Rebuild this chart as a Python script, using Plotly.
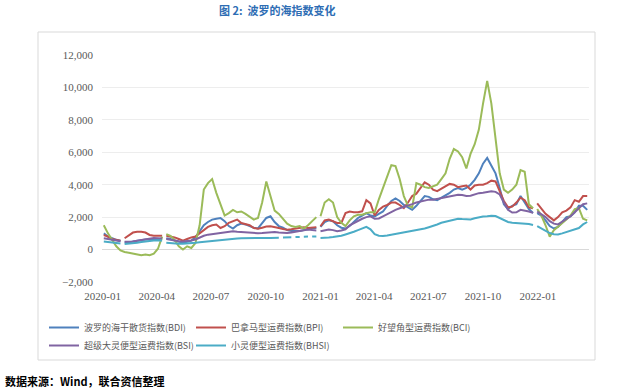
import pandas as pd
import plotly.graph_objects as go

# ---- data (weekly readings, Fridays from 2020-01-03) ----
start_date = "2020-01-03"
n_weeks = 117

bdi = [
    1000, 800, 700, 600, 550, 450, 430, 500, 550, 600, 620, 630, 600,
    620, 680, 700, 650, 550, 480, 420, 480, 550, 750, 1100, 1500, 1700,
    1850, 1900, 1950, 1750, 1450, 1300, 1500, 1600, 1550, 1450, 1350, 1300, 1650,
    1950, 2050, 1700, 1450, 1350, 1200, 1150, 1150, 1150, 1200, 1250, 1300, 1350,
    1400, 1700, 1800, 1750, 1500, 1350, 1300, 1450, 1700, 1950, 2100, 2250, 2100,
    2050, 2200, 2350, 2700, 3000, 3150, 3000, 2750, 2600, 2450, 2700, 3000, 3300,
    3250, 3100, 3050, 3200, 3300, 3500, 3700, 3800, 3700, 3800, 4000, 4300, 4700,
    5300, 5650, 5200, 4700, 3800, 2800, 2500, 2700, 2800, 3300, 2900, 2500, 2250,
    2250, 2100, 1800, 1450, 1300, 1400, 1700, 2000, 2050, 2300, 2700, 2700, 2450,
]
bpi = [
    900, 800, 650, 600, 550, 700, 900, 1050, 1100, 1100, 1050, 900, 850,
    850, 850, 850, 800, 750, 650, 550, 650, 750, 800, 1000, 1200, 1400,
    1500, 1540, 1330, 1440, 1650, 1750, 1850, 1640, 1580, 1500, 1330, 1280, 1350,
    1420, 1440, 1400, 1330, 1270, 1230, 1250, 1280, 1350, 1370, 1330, 1370, 1380,
    1440, 1800, 1850, 1750, 1640, 1640, 2250, 2350, 2300, 2300, 2360, 3050, 2850,
    2100, 2450, 2650, 2750, 2900, 2900, 2750, 2560, 2900, 3300, 3450, 3800, 4150,
    4000, 3700, 3600, 3750, 3950, 4050, 4000, 3850, 3900, 3950, 3700, 3950, 4000,
    4000, 4100, 4250, 4200, 3600, 3000, 2600, 2650, 2900, 3200, 3050, 2600, 2550,
    2850, 2550, 2200, 2000, 1800, 2000, 2300, 2400, 2600, 3050, 2950, 3300, 3300,
]
bci = [
    1500, 1000, 600, 200, -50, -150, -200, -250, -300, -350, -300, -350, -250,
    50, 800, 950, 850, 600, 200, 0, 200, 100, 400, 1500, 3700, 4100,
    4350, 3500, 2800, 2100, 2250, 2450, 2300, 2350, 2200, 2000, 1850, 1950, 2900,
    4200, 3300, 2400, 2200, 1900, 1600, 1450, 1400, 1450, 1300, 1500, 1750, 2000,
    2050, 2900, 3100, 2900, 2000, 1650, 1450, 1800, 2050, 2150, 2150, 2250, 2300,
    2300, 3100, 3800, 4500, 5200, 5150, 4350, 3300, 2700, 2600, 4100, 4000, 3850,
    3800, 3900, 4000, 4350, 4700, 5600, 6200, 6050, 5700, 5000, 5900, 6500, 7400,
    9000, 10400, 9000, 6800, 4700, 3700, 3500, 3700, 4000, 4900, 4800, 2800, 2550,
    2500, 2100, 1500, 800, 1200, 1400, 1600, 1850, 2100, 2500, 2550, 1900, 1800,
]
bsi = [
    700, 650, 600, 560, 520, 480, 470, 500, 550, 600, 650, 700, 720,
    700, 680, 650, 600, 550, 520, 500, 520, 560, 620, 750, 850, 920,
    960, 1000, 1020, 1060, 1110, 1130, 1100, 1080, 1050, 1030, 1020, 1010, 1020,
    1040, 1080, 1080, 1050, 1020, 1020, 1050, 1100, 1130, 1200, 1230, 1200, 1180,
    1130, 1200, 1230, 1200, 1130, 1180, 1250, 1500, 1650, 1800, 1900, 2000, 2050,
    1900, 1920, 2050, 2200, 2350, 2450, 2550, 2620, 2700, 2800, 2900, 2970, 3030,
    3080, 3080, 3130, 3180, 3250, 3320, 3350, 3380, 3360, 3300, 3320, 3420, 3480,
    3500, 3570, 3600, 3560, 3400, 2900, 2450, 2280, 2300, 2450, 2420, 2350, 2260,
    2350, 2200, 2000, 1750, 1600, 1550, 1700, 1850, 2050, 2300, 2550, 2800, 2850,
]
bhsi = [
    500, 480, 440, 400, 380, 350, 360, 380, 420, 460, 500, 540, 560,
    570, 560, 420, 390, 370, 360, 360, 370, 380, 420, 450, 480, 510,
    530, 550, 570, 600, 630, 660, 680, 700, 710, 720, 720, 720, 720,
    720, 720, 720, 730, 740, 750, 760, 770, 780, 790, 800, 800, 810,
    720, 720, 740, 770, 800, 850, 930, 1000, 1100, 1200, 1300, 1400, 1250,
    950, 850, 830, 870, 920, 960, 1000, 1040, 1080, 1130, 1180, 1230, 1300,
    1380, 1450, 1550, 1650, 1720, 1760, 1830, 1900, 1880, 1850, 1860, 1930, 1990,
    2040, 2060, 2090, 2070, 1950, 1800, 1700, 1650, 1640, 1640, 1620, 1580, 1520,
    1450, 1300, 1150, 1020, 950, 930, 1000, 1080, 1150, 1250, 1330, 1550, 1700,
]

# dates where the source series have no value (holidays -> line breaks)
gaps_common = ["2020-04-11", "2020-12-27", "2021-12-27"]
gaps_feb = ["2020-02-05"]
gaps_bhsi_extra = ["2020-10-26", "2020-11-16", "2020-12-01", "2020-12-15"]

names = [
    "波罗的海干散货指数(BDI)",
    "巴拿马型运费指数(BPI)",
    "好望角型运费指数(BCI)",
    "超级大灵便型运费指数(BSI)",
    "小灵便型运费指数(BHSI)",
]
colors = ["#4F81BD", "#C0504D", "#9BBB59", "#8064A2", "#4BACC6"]
legend_rows = ["legend", "legend", "legend", "legend2", "legend2"]

tick_vals = ["2020-01-01", "2020-04-01", "2020-07-01", "2020-10-01", "2021-01-01",
             "2021-04-01", "2021-07-01", "2021-10-01", "2022-01-01"]
tick_text = ["2020-01", "2020-04", "2020-07", "2020-10", "2021-01",
             "2021-04", "2021-07", "2021-10", "2022-01"]

dates = list(pd.date_range(start_date, periods=n_weeks, freq="7D"))


def series_xy(values, gaps):
    pts = list(zip(dates, values)) + [(pd.Timestamp(g), None) for g in gaps]
    pts.sort(key=lambda p: p[0])
    return [p[0] for p in pts], [p[1] for p in pts]


series = [
    (bdi, gaps_common + gaps_feb),
    (bpi, gaps_common + gaps_feb),
    (bci, gaps_common),
    (bsi, gaps_common + gaps_feb),
    (bhsi, gaps_common + gaps_feb + gaps_bhsi_extra),
]

fig = go.Figure()
for (vals, gaps), name, col, lg in zip(series, names, colors, legend_rows):
    xs, ys = series_xy(vals, gaps)
    fig.add_trace(go.Scatter(x=xs, y=ys, mode="lines", name=name,
                             connectgaps=False, legend=lg,
                             line=dict(color=col, width=2)))

W, H = 640, 392
L, R, T, B = 102, 51, 55, 110
pw, ph = W - L - R, H - T - B


def px_x(x):
    return (x - L) / pw


def px_y(y):
    return (H - B - y) / ph


serif = "Liberation Serif"
legend_style = dict(orientation="h", xanchor="left", yanchor="top",
                    entrywidth=102, entrywidthmode="pixels",
                    font=dict(family="Noto Sans CJK SC", size=9, color="#595959"),
                    itemwidth=30, tracegroupgap=0, bgcolor="rgba(0,0,0,0)")

fig.update_layout(
    width=W, height=H,
    margin=dict(l=L, r=R, t=T, b=B),
    paper_bgcolor="white", plot_bgcolor="white",
    showlegend=True,
    legend=dict(x=px_x(44), y=px_y(313), **legend_style),
    legend2=dict(x=px_x(44), y=px_y(331), **legend_style),
    xaxis=dict(type="date", range=["2019-12-31", "2022-03-28"],
               tickvals=tick_vals, ticktext=tick_text,
               showgrid=False, zeroline=False, showline=False, ticks="",
               ticklabelstandoff=6,
               tickfont=dict(family=serif, size=11, color="#595959")),
    xaxis2=dict(type="date", range=["2019-12-31", "2022-03-28"], overlaying="x",
                anchor="free", position=2000 / 14000, side="bottom",
                tickvals=tick_vals, showticklabels=False, ticks="outside",
                ticklen=4, tickcolor="#d9d9d9", showgrid=False, showline=False,
                zeroline=False),
    yaxis=dict(range=[-2000, 12000], dtick=2000, tickformat=",",
               showgrid=True, gridcolor="#ededed", gridwidth=1,
               zeroline=True, zerolinecolor="#d9d9d9", zerolinewidth=1,
               showline=False, ticks="", ticklabelstandoff=8,
               tickfont=dict(family=serif, size=11, color="#595959")),
    shapes=[dict(type="rect", xref="paper", yref="paper",
                 x0=px_x(38), x1=px_x(595), y0=px_y(360), y1=px_y(32),
                 line=dict(color="#d9d9d9", width=1), layer="below")],
    annotations=[
        dict(text="<b>图 2:  波罗的海指数变化</b>", xref="paper", yref="paper",
             x=px_x(277), y=px_y(10), xanchor="center", yanchor="middle",
             showarrow=False,
             font=dict(family="Noto Sans CJK SC", size=11, color="#2E6DB4")),
        dict(text="<b>数据来源：Wind，联合资信整理</b>", xref="paper", yref="paper",
             x=px_x(3), y=px_y(381), xanchor="left", yanchor="middle",
             showarrow=False,
             font=dict(family="Noto Sans CJK SC", size=11, color="#000000")),
    ],
)

fig.write_html("out.html", config={"displayModeBar": False},
               post_script="document.body.style.margin='0';document.body.style.padding='0';")
